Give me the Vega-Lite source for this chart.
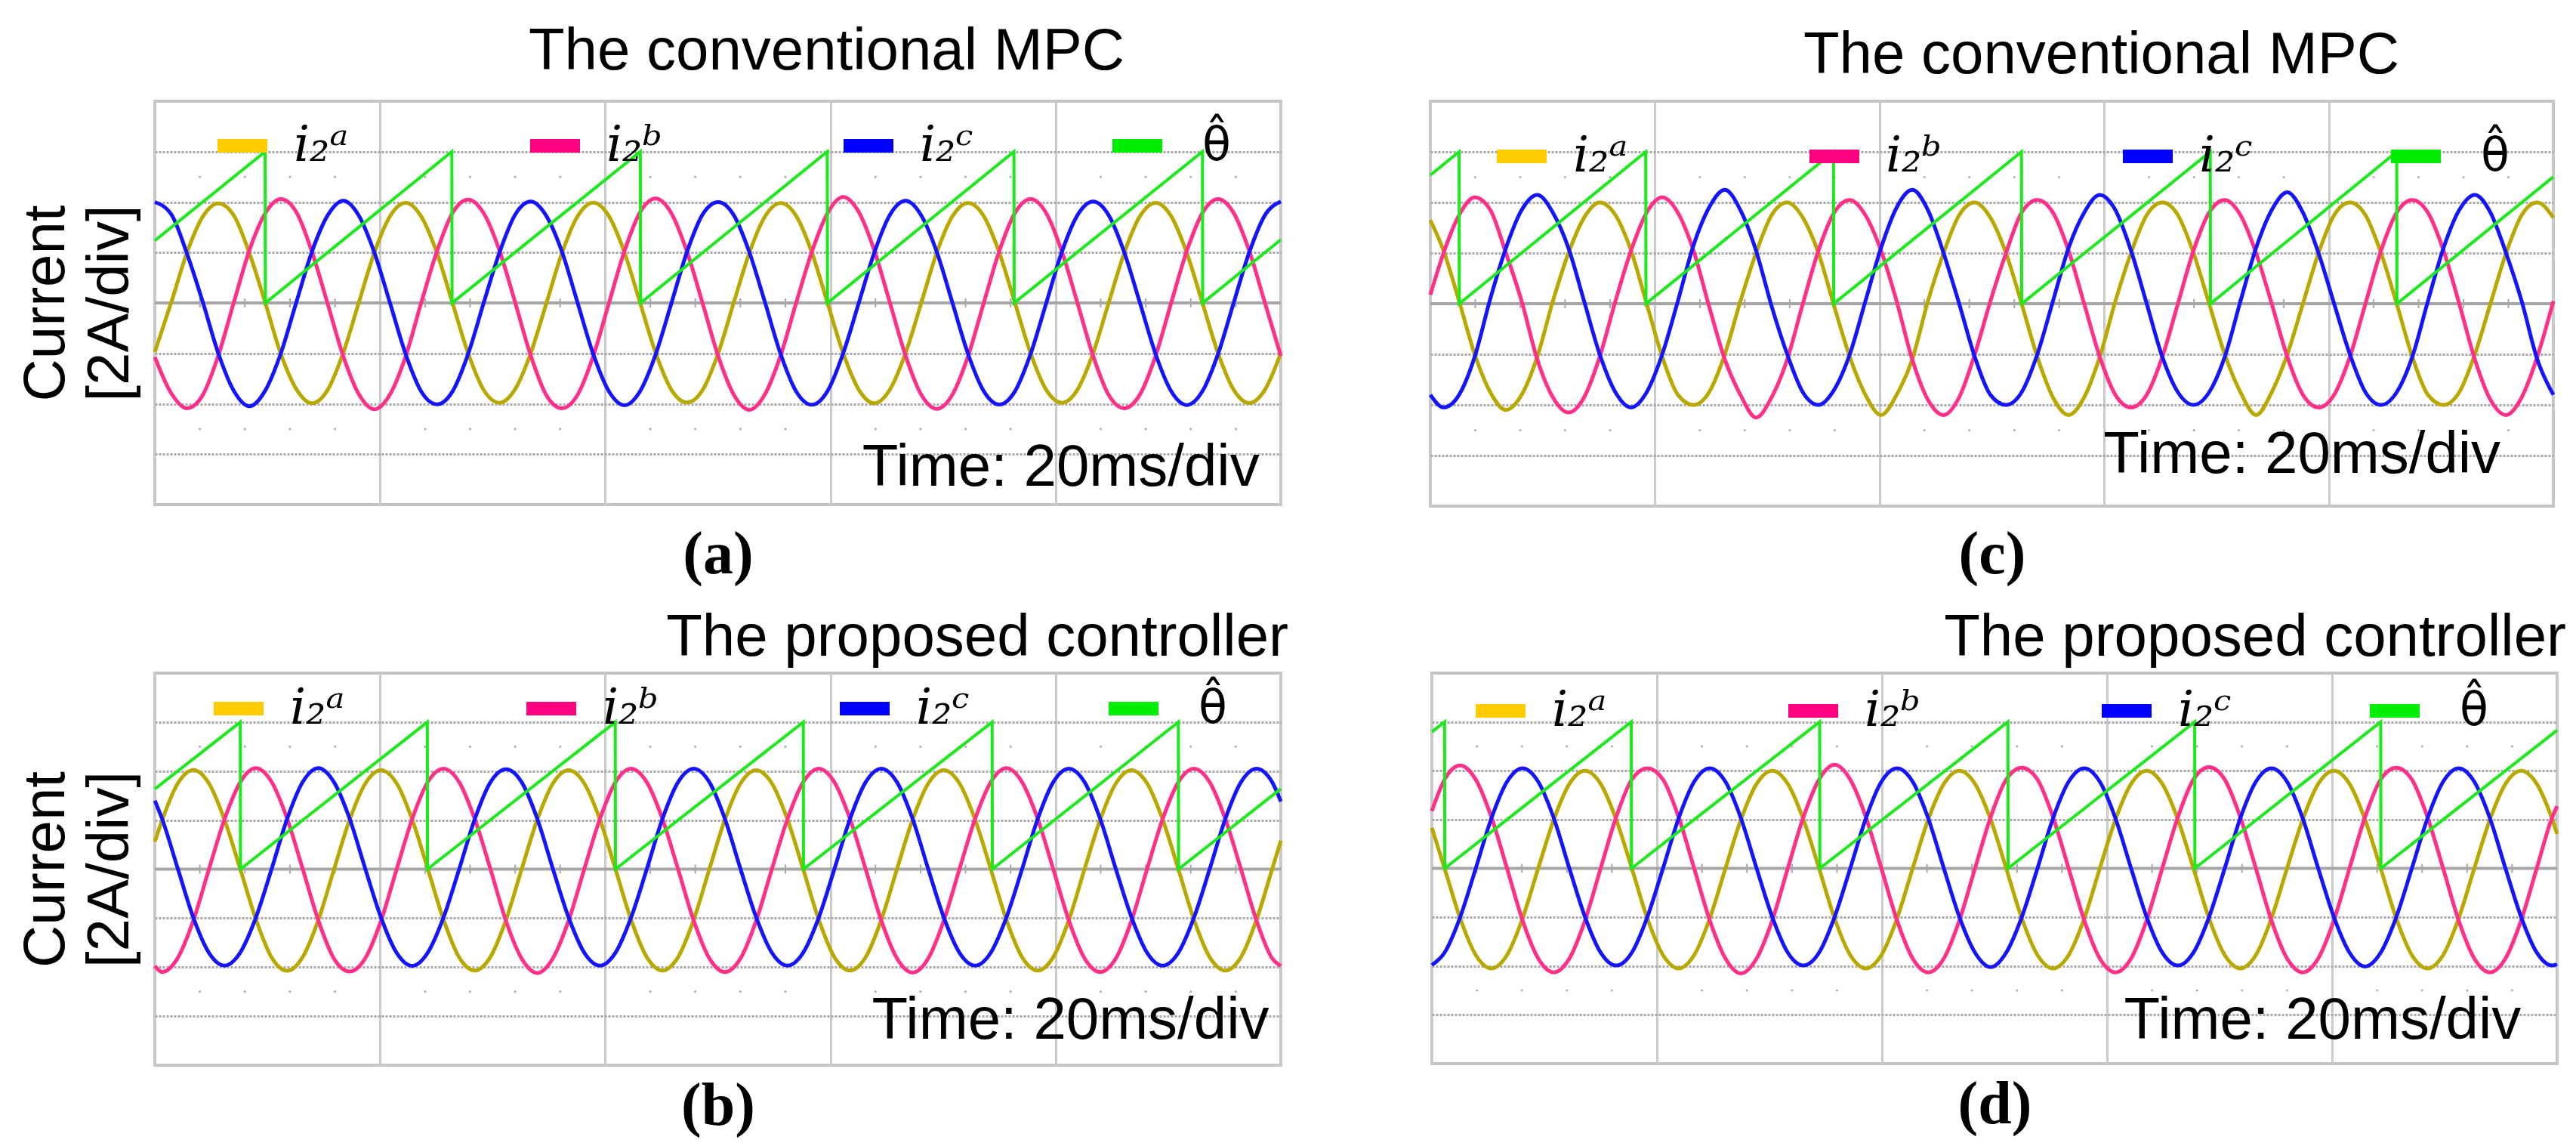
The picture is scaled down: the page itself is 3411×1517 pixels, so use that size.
{
"$schema":"https://vega.github.io/schema/vega-lite/v6.json",
"background":"white",
"padding":{"left":20,"top":28,"right":0,"bottom":0},
"config":{"view":{"stroke":"#c4c4c4","strokeWidth":4},"font":"Liberation Sans"},
"datasets":{
"nothing":[],
"minor":[{"t":4},{"t":8},{"t":12},{"t":16},{"t":24},{"t":28},{"t":32},{"t":36},{"t":44},{"t":48},{"t":52},{"t":56},{"t":64},{"t":68},{"t":72},{"t":76},{"t":84},{"t":88},{"t":92},{"t":96}],
"sa":[{"t":0,"v":2.47},{"t":9.8,"v":6},{"t":9.82,"v":0},{"t":26.38,"v":6},{"t":26.4,"v":0},{"t":43.12,"v":6},{"t":43.14,"v":0},{"t":59.72,"v":6},{"t":59.74,"v":0},{"t":76.3,"v":6},{"t":76.32,"v":0},{"t":93.04,"v":6},{"t":93.06,"v":0},{"t":100,"v":2.51}],
"sc":[{"t":0,"v":5.08},{"t":2.56,"v":6},{"t":2.58,"v":0},{"t":19.18,"v":6},{"t":19.2,"v":0},{"t":35.9,"v":6},{"t":35.92,"v":0},{"t":52.64,"v":6},{"t":52.66,"v":0},{"t":69.45,"v":6},{"t":69.47,"v":0},{"t":86.05,"v":6},{"t":86.07,"v":0},{"t":100,"v":5.01}],
"sb":[{"t":0,"v":3.27},{"t":7.59,"v":6},{"t":7.61,"v":0},{"t":24.2,"v":6},{"t":24.22,"v":0},{"t":40.89,"v":6},{"t":40.91,"v":0},{"t":57.59,"v":6},{"t":57.61,"v":0},{"t":74.36,"v":6},{"t":74.38,"v":0},{"t":90.9,"v":6},{"t":90.92,"v":0},{"t":100,"v":3.28}],
"sd":[{"t":0,"v":5.59},{"t":1.13,"v":6},{"t":1.15,"v":0},{"t":17.72,"v":6},{"t":17.74,"v":0},{"t":34.46,"v":6},{"t":34.48,"v":0},{"t":51.19,"v":6},{"t":51.21,"v":0},{"t":67.79,"v":6},{"t":67.81,"v":0},{"t":84.32,"v":6},{"t":84.34,"v":0},{"t":100,"v":5.66}],
"wa":[{"t":0,"a":-1.95,"b":-2.15,"c":4.0},{"t":1.48,"a":0.05,"b":-3.6,"c":3.5},{"t":2.86,"a":2.0,"b":-4.18,"c":1.95},{"t":4.25,"a":3.42,"b":-3.66,"c":0.05},{"t":5.64,"a":3.95,"b":-2.08,"c":-2.0},{"t":7.03,"a":3.46,"b":0.04,"c":-3.5},{"t":8.41,"a":1.96,"b":2.1,"c":-4.1},{"t":9.8,"a":0.02,"b":3.55,"c":-3.48},{"t":11.19,"a":-2.02,"b":4.12,"c":-2.0},{"t":12.57,"a":-3.42,"b":3.6,"c":0.03},{"t":13.96,"a":-3.98,"b":2.02,"c":2.04},{"t":15.35,"a":-3.45,"b":-0.03,"c":3.47},{"t":16.74,"a":-1.97,"b":-2.12,"c":4.05},{"t":18.12,"a":0.02,"b":-3.62,"c":3.46},{"t":19.51,"a":2.01,"b":-4.22,"c":1.98},{"t":20.9,"a":3.45,"b":-3.62,"c":-0.02},{"t":22.29,"a":3.97,"b":-2.1,"c":-2.05},{"t":23.67,"a":3.42,"b":0.02,"c":-3.52},{"t":25.06,"a":1.98,"b":2.05,"c":-4.02},{"t":26.45,"a":-0.02,"b":3.58,"c":-3.5},{"t":27.83,"a":-2.0,"b":4.1,"c":-2.02},{"t":29.22,"a":-3.46,"b":3.55,"c":0.02},{"t":30.61,"a":-3.96,"b":2.08,"c":2.0},{"t":32.0,"a":-3.42,"b":0.02,"c":3.5},{"t":33.38,"a":-2.0,"b":-2.08,"c":4.02},{"t":34.77,"a":-0.02,"b":-3.66,"c":3.45},{"t":36.16,"a":1.98,"b":-4.18,"c":2.03},{"t":37.55,"a":3.44,"b":-3.64,"c":0.0},{"t":38.93,"a":3.98,"b":-2.12,"c":-2.02},{"t":40.32,"a":3.45,"b":-0.02,"c":-3.5},{"t":41.71,"a":2.0,"b":2.06,"c":-4.06},{"t":43.1,"a":0.0,"b":3.6,"c":-3.5},{"t":44.48,"a":-1.98,"b":4.14,"c":-2.04},{"t":45.87,"a":-3.44,"b":3.56,"c":-0.02},{"t":47.26,"a":-3.95,"b":2.04,"c":2.02},{"t":48.64,"a":-3.46,"b":0.0,"c":3.5},{"t":50.03,"a":-2.0,"b":-2.1,"c":4.0},{"t":51.42,"a":0.02,"b":-3.64,"c":3.48},{"t":52.81,"a":2.0,"b":-4.24,"c":2.0},{"t":54.19,"a":3.43,"b":-3.62,"c":0.02},{"t":55.58,"a":3.96,"b":-2.08,"c":-2.03},{"t":56.97,"a":3.44,"b":0.02,"c":-3.52},{"t":58.36,"a":1.99,"b":2.04,"c":-4.04},{"t":59.74,"a":0.0,"b":3.56,"c":-3.5},{"t":61.13,"a":-1.99,"b":4.2,"c":-2.0},{"t":62.52,"a":-3.44,"b":3.6,"c":0.0},{"t":63.9,"a":-3.98,"b":2.08,"c":2.0},{"t":65.29,"a":-3.43,"b":0.0,"c":3.5},{"t":66.68,"a":-1.98,"b":-2.1,"c":4.05},{"t":68.07,"a":0.0,"b":-3.64,"c":3.47},{"t":69.45,"a":2.0,"b":-4.2,"c":2.02},{"t":70.84,"a":3.44,"b":-3.63,"c":0.0},{"t":72.23,"a":3.96,"b":-2.1,"c":-2.03},{"t":73.62,"a":3.44,"b":0.0,"c":-3.5},{"t":75.0,"a":1.99,"b":2.06,"c":-4.03},{"t":76.39,"a":0.0,"b":3.57,"c":-3.5},{"t":77.78,"a":-2.0,"b":4.12,"c":-2.02},{"t":79.17,"a":-3.45,"b":3.56,"c":0.0},{"t":80.55,"a":-3.96,"b":2.05,"c":2.02},{"t":81.94,"a":-3.44,"b":0.0,"c":3.48},{"t":83.33,"a":-1.99,"b":-2.1,"c":4.02},{"t":84.71,"a":0.0,"b":-3.65,"c":3.48},{"t":86.1,"a":1.99,"b":-4.18,"c":2.0},{"t":87.49,"a":3.44,"b":-3.63,"c":0.0},{"t":88.88,"a":3.97,"b":-2.1,"c":-2.03},{"t":90.26,"a":3.44,"b":0.0,"c":-3.5},{"t":91.65,"a":1.98,"b":2.06,"c":-4.05},{"t":93.04,"a":0.0,"b":3.57,"c":-3.5},{"t":94.43,"a":-2.0,"b":4.12,"c":-2.02},{"t":95.81,"a":-3.44,"b":3.57,"c":0.0},{"t":97.2,"a":-3.97,"b":2.06,"c":2.01},{"t":98.59,"a":-3.44,"b":0.0,"c":3.48},{"t":100,"a":-1.99,"b":-2.1,"c":4.02}],
"wc":[{"t":0,"a":3.3,"b":0.35,"c":-3.6},{"t":1.17,"a":2.1,"b":2.0,"c":-4.1},{"t":2.56,"a":0.1,"b":3.5,"c":-3.6},{"t":3.95,"a":-2.0,"b":4.2,"c":-2.1},{"t":5.34,"a":-3.5,"b":3.7,"c":0.2},{"t":6.73,"a":-4.2,"b":2.0,"c":2.2},{"t":8.13,"a":-3.6,"b":0.1,"c":3.7},{"t":9.52,"a":-2.1,"b":-2.2,"c":4.3},{"t":10.91,"a":0.1,"b":-3.7,"c":3.6},{"t":12.3,"a":2.0,"b":-4.3,"c":2.2},{"t":13.69,"a":3.4,"b":-3.7,"c":0.1},{"t":15.08,"a":4.0,"b":-2.1,"c":-2.0},{"t":16.48,"a":3.5,"b":0.1,"c":-3.5},{"t":17.87,"a":2.1,"b":2.1,"c":-4.1},{"t":19.26,"a":0.0,"b":3.6,"c":-3.5},{"t":20.65,"a":-2.1,"b":4.2,"c":-2.0},{"t":22.04,"a":-3.6,"b":3.6,"c":0.1},{"t":23.43,"a":-4.0,"b":2.1,"c":2.3},{"t":24.82,"a":-3.5,"b":-0.1,"c":3.8},{"t":26.22,"a":-2.0,"b":-2.2,"c":4.5},{"t":27.61,"a":0.1,"b":-3.6,"c":3.7},{"t":29.0,"a":2.0,"b":-4.5,"c":2.1},{"t":30.39,"a":3.5,"b":-3.7,"c":-0.1},{"t":31.78,"a":4.0,"b":-2.2,"c":-2.0},{"t":33.17,"a":3.4,"b":0.0,"c":-3.5},{"t":34.56,"a":2.0,"b":2.1,"c":-4.0},{"t":35.96,"a":-0.1,"b":3.6,"c":-3.4},{"t":37.35,"a":-2.1,"b":4.1,"c":-2.0},{"t":38.74,"a":-3.6,"b":3.5,"c":0.1},{"t":40.13,"a":-4.4,"b":2.1,"c":2.2},{"t":41.52,"a":-3.6,"b":0.1,"c":3.8},{"t":42.91,"a":-2.2,"b":-2.2,"c":4.5},{"t":44.31,"a":0.1,"b":-3.8,"c":3.7},{"t":45.7,"a":2.0,"b":-4.4,"c":2.0},{"t":47.09,"a":3.5,"b":-3.7,"c":0.0},{"t":48.48,"a":4.0,"b":-2.0,"c":-2.1},{"t":49.87,"a":3.4,"b":0.1,"c":-3.6},{"t":51.26,"a":2.0,"b":2.0,"c":-4.0},{"t":52.65,"a":0.0,"b":3.6,"c":-3.5},{"t":54.05,"a":-2.1,"b":4.1,"c":-2.0},{"t":55.44,"a":-3.7,"b":3.6,"c":0.1},{"t":56.83,"a":-4.4,"b":2.1,"c":2.2},{"t":58.22,"a":-3.7,"b":0.0,"c":3.6},{"t":59.61,"a":-2.1,"b":-2.1,"c":4.3},{"t":61.0,"a":0.1,"b":-3.6,"c":3.7},{"t":62.39,"a":2.0,"b":-4.1,"c":2.1},{"t":63.79,"a":3.5,"b":-3.6,"c":0.0},{"t":65.18,"a":4.0,"b":-2.1,"c":-2.1},{"t":66.57,"a":3.5,"b":0.0,"c":-3.5},{"t":67.96,"a":2.0,"b":2.1,"c":-4.0},{"t":69.35,"a":0.0,"b":3.6,"c":-3.5},{"t":70.74,"a":-2.0,"b":4.1,"c":-2.1},{"t":72.14,"a":-3.5,"b":3.5,"c":0.1},{"t":73.53,"a":-4.4,"b":2.0,"c":2.2},{"t":74.92,"a":-3.5,"b":0.0,"c":3.7},{"t":76.31,"a":-2.0,"b":-2.1,"c":4.4},{"t":77.7,"a":0.0,"b":-3.6,"c":3.6},{"t":79.09,"a":2.0,"b":-4.1,"c":2.0},{"t":80.48,"a":3.5,"b":-3.6,"c":0.0},{"t":81.88,"a":4.0,"b":-2.1,"c":-2.0},{"t":83.27,"a":3.5,"b":0.0,"c":-3.5},{"t":84.66,"a":2.0,"b":2.1,"c":-4.0},{"t":86.05,"a":0.0,"b":3.6,"c":-3.5},{"t":87.44,"a":-2.1,"b":4.1,"c":-2.1},{"t":88.83,"a":-3.6,"b":3.6,"c":0.1},{"t":90.22,"a":-4.0,"b":2.1,"c":2.2},{"t":91.62,"a":-3.5,"b":0.0,"c":3.7},{"t":93.01,"a":-2.0,"b":-2.2,"c":4.3},{"t":94.4,"a":0.0,"b":-3.8,"c":3.6},{"t":95.79,"a":2.0,"b":-4.4,"c":2.0},{"t":97.18,"a":3.5,"b":-3.7,"c":0.1},{"t":98.57,"a":4.0,"b":-2.1,"c":-2.2},{"t":100,"a":3.4,"b":0.1,"c":-3.6}],
"wb":[{"t":0,"a":1.12,"b":-3.95,"c":2.8},{"t":0.65,"a":2.0,"b":-4.2,"c":2.05},{"t":2.04,"a":3.5,"b":-3.62,"c":0.02},{"t":3.42,"a":4.05,"b":-2.1,"c":-1.98},{"t":4.81,"a":3.5,"b":0.0,"c":-3.42},{"t":6.2,"a":2.0,"b":2.05,"c":-3.94},{"t":7.59,"a":0.0,"b":3.55,"c":-3.4},{"t":8.98,"a":-2.05,"b":4.12,"c":-1.97},{"t":10.37,"a":-3.6,"b":3.56,"c":0.0},{"t":11.76,"a":-4.15,"b":2.05,"c":2.06},{"t":13.14,"a":-3.58,"b":0.0,"c":3.56},{"t":14.53,"a":-2.07,"b":-2.1,"c":4.12},{"t":15.92,"a":0.0,"b":-3.66,"c":3.54},{"t":17.31,"a":2.02,"b":-4.18,"c":2.05},{"t":18.7,"a":3.5,"b":-3.63,"c":0.0},{"t":20.09,"a":4.04,"b":-2.1,"c":-1.98},{"t":21.48,"a":3.5,"b":0.0,"c":-3.42},{"t":22.86,"a":2.02,"b":2.05,"c":-3.95},{"t":24.25,"a":0.0,"b":3.56,"c":-3.4},{"t":25.64,"a":-2.06,"b":4.1,"c":-1.97},{"t":27.03,"a":-3.6,"b":3.55,"c":0.0},{"t":28.42,"a":-4.14,"b":2.04,"c":2.05},{"t":29.81,"a":-3.58,"b":0.0,"c":3.55},{"t":31.19,"a":-2.07,"b":-2.12,"c":4.08},{"t":32.58,"a":0.0,"b":-3.65,"c":3.55},{"t":33.97,"a":2.02,"b":-4.24,"c":2.05},{"t":35.36,"a":3.5,"b":-3.63,"c":0.0},{"t":36.75,"a":4.04,"b":-2.1,"c":-1.97},{"t":38.14,"a":3.5,"b":0.0,"c":-3.41},{"t":39.53,"a":2.02,"b":2.05,"c":-3.94},{"t":40.91,"a":0.0,"b":3.55,"c":-3.41},{"t":42.3,"a":-2.07,"b":4.1,"c":-1.97},{"t":43.69,"a":-3.59,"b":3.55,"c":0.0},{"t":45.08,"a":-4.14,"b":2.05,"c":2.05},{"t":46.47,"a":-3.59,"b":0.0,"c":3.55},{"t":47.86,"a":-2.07,"b":-2.1,"c":4.1},{"t":49.25,"a":0.0,"b":-3.64,"c":3.55},{"t":50.63,"a":2.02,"b":-4.2,"c":2.05},{"t":52.02,"a":3.5,"b":-3.64,"c":0.0},{"t":53.41,"a":4.04,"b":-2.1,"c":-1.97},{"t":54.8,"a":3.5,"b":0.0,"c":-3.41},{"t":56.19,"a":2.02,"b":2.05,"c":-3.94},{"t":57.58,"a":0.0,"b":3.55,"c":-3.41},{"t":58.97,"a":-2.07,"b":4.1,"c":-1.97},{"t":60.35,"a":-3.59,"b":3.55,"c":0.0},{"t":61.74,"a":-4.14,"b":2.05,"c":2.05},{"t":63.13,"a":-3.59,"b":0.0,"c":3.55},{"t":64.52,"a":-2.07,"b":-2.1,"c":4.1},{"t":65.91,"a":0.0,"b":-3.64,"c":3.55},{"t":67.3,"a":2.02,"b":-4.22,"c":2.05},{"t":68.69,"a":3.5,"b":-3.64,"c":0.0},{"t":70.07,"a":4.04,"b":-2.1,"c":-1.97},{"t":71.46,"a":3.5,"b":0.0,"c":-3.41},{"t":72.85,"a":2.02,"b":2.05,"c":-3.94},{"t":74.24,"a":0.0,"b":3.55,"c":-3.41},{"t":75.63,"a":-2.07,"b":4.12,"c":-1.97},{"t":77.02,"a":-3.59,"b":3.55,"c":0.0},{"t":78.41,"a":-4.14,"b":2.05,"c":2.05},{"t":79.79,"a":-3.59,"b":0.0,"c":3.55},{"t":81.18,"a":-2.07,"b":-2.1,"c":4.1},{"t":82.57,"a":0.0,"b":-3.64,"c":3.55},{"t":83.96,"a":2.02,"b":-4.2,"c":2.05},{"t":85.35,"a":3.5,"b":-3.64,"c":0.0},{"t":86.74,"a":4.04,"b":-2.1,"c":-1.97},{"t":88.12,"a":3.5,"b":0.0,"c":-3.41},{"t":89.51,"a":2.02,"b":2.05,"c":-3.94},{"t":90.9,"a":0.0,"b":3.55,"c":-3.41},{"t":92.29,"a":-2.07,"b":4.1,"c":-1.97},{"t":93.68,"a":-3.59,"b":3.55,"c":0.0},{"t":95.07,"a":-4.14,"b":2.05,"c":2.05},{"t":96.46,"a":-3.59,"b":0.0,"c":3.55},{"t":97.84,"a":-2.07,"b":-2.1,"c":4.1},{"t":99.23,"a":0.0,"b":-3.64,"c":3.55},{"t":100,"a":1.16,"b":-3.95,"c":2.76}],
"wd":[{"t":0,"a":1.66,"b":2.35,"c":-3.96},{"t":1.13,"a":0.0,"b":3.64,"c":-3.45},{"t":2.52,"a":-2.05,"b":4.22,"c":-1.99},{"t":3.9,"a":-3.55,"b":3.64,"c":0.0},{"t":5.29,"a":-4.1,"b":2.1,"c":2.05},{"t":6.68,"a":-3.55,"b":0.0,"c":3.55},{"t":8.06,"a":-2.05,"b":-2.13,"c":4.1},{"t":9.45,"a":0.0,"b":-3.69,"c":3.55},{"t":10.84,"a":2.0,"b":-4.26,"c":2.05},{"t":12.22,"a":3.46,"b":-3.69,"c":0.0},{"t":13.61,"a":4.0,"b":-2.13,"c":-1.99},{"t":15.0,"a":3.46,"b":0.0,"c":-3.45},{"t":16.38,"a":2.0,"b":2.1,"c":-3.98},{"t":17.77,"a":0.0,"b":3.64,"c":-3.45},{"t":19.15,"a":-2.05,"b":4.1,"c":-1.99},{"t":20.54,"a":-3.55,"b":3.64,"c":0.0},{"t":21.93,"a":-4.1,"b":2.1,"c":2.05},{"t":23.31,"a":-3.55,"b":0.0,"c":3.55},{"t":24.7,"a":-2.05,"b":-2.13,"c":4.1},{"t":26.09,"a":0.0,"b":-3.69,"c":3.55},{"t":27.47,"a":2.0,"b":-4.3,"c":2.05},{"t":28.86,"a":3.46,"b":-3.69,"c":0.0},{"t":30.25,"a":4.0,"b":-2.13,"c":-1.99},{"t":31.63,"a":3.46,"b":0.0,"c":-3.45},{"t":33.02,"a":2.0,"b":2.1,"c":-3.98},{"t":34.41,"a":0.0,"b":3.64,"c":-3.45},{"t":35.79,"a":-2.05,"b":4.25,"c":-1.99},{"t":37.18,"a":-3.55,"b":3.64,"c":0.0},{"t":38.57,"a":-4.1,"b":2.1,"c":2.05},{"t":39.95,"a":-3.55,"b":0.0,"c":3.55},{"t":41.34,"a":-2.05,"b":-2.13,"c":4.1},{"t":42.73,"a":0.0,"b":-3.69,"c":3.55},{"t":44.11,"a":2.0,"b":-4.26,"c":2.05},{"t":45.5,"a":3.46,"b":-3.69,"c":0.0},{"t":46.88,"a":4.0,"b":-2.13,"c":-1.99},{"t":48.27,"a":3.46,"b":0.0,"c":-3.45},{"t":49.66,"a":2.0,"b":2.1,"c":-4.05},{"t":51.04,"a":0.0,"b":3.64,"c":-3.45},{"t":52.43,"a":-2.05,"b":4.12,"c":-1.99},{"t":53.82,"a":-3.55,"b":3.64,"c":0.0},{"t":55.2,"a":-4.1,"b":2.1,"c":2.05},{"t":56.59,"a":-3.55,"b":0.0,"c":3.55},{"t":57.98,"a":-2.05,"b":-2.13,"c":4.1},{"t":59.36,"a":0.0,"b":-3.69,"c":3.55},{"t":60.75,"a":2.0,"b":-4.26,"c":2.05},{"t":62.14,"a":3.46,"b":-3.69,"c":0.0},{"t":63.52,"a":4.0,"b":-2.13,"c":-1.99},{"t":64.91,"a":3.46,"b":0.0,"c":-3.45},{"t":66.3,"a":2.0,"b":2.1,"c":-3.98},{"t":67.68,"a":0.0,"b":3.64,"c":-3.45},{"t":69.07,"a":-2.05,"b":4.15,"c":-1.99},{"t":70.46,"a":-3.55,"b":3.64,"c":0.0},{"t":71.84,"a":-4.1,"b":2.1,"c":2.05},{"t":73.23,"a":-3.55,"b":0.0,"c":3.55},{"t":74.61,"a":-2.05,"b":-2.13,"c":4.1},{"t":76.0,"a":0.0,"b":-3.69,"c":3.55},{"t":77.39,"a":2.0,"b":-4.26,"c":2.05},{"t":78.77,"a":3.46,"b":-3.69,"c":0.0},{"t":80.16,"a":4.0,"b":-2.13,"c":-1.99},{"t":81.55,"a":3.46,"b":0.0,"c":-3.45},{"t":82.93,"a":2.0,"b":2.1,"c":-4.02},{"t":84.32,"a":0.0,"b":3.64,"c":-3.45},{"t":85.71,"a":-2.05,"b":4.12,"c":-1.99},{"t":87.09,"a":-3.55,"b":3.64,"c":0.0},{"t":88.48,"a":-4.1,"b":2.1,"c":2.05},{"t":89.87,"a":-3.55,"b":0.0,"c":3.55},{"t":91.25,"a":-2.05,"b":-2.13,"c":4.1},{"t":92.64,"a":0.0,"b":-3.69,"c":3.55},{"t":94.03,"a":2.0,"b":-4.26,"c":2.05},{"t":95.41,"a":3.46,"b":-3.69,"c":0.0},{"t":96.8,"a":4.0,"b":-2.13,"c":-1.99},{"t":98.19,"a":3.46,"b":0.0,"c":-3.45},{"t":99.57,"a":2.0,"b":2.1,"c":-3.98},{"t":100,"a":1.41,"b":2.55,"c":-3.93}]
},
"spacing":28,
"resolve":{"scale":{"color":"independent"}},
"vconcat":[
{"hconcat":[
{"width":1491,"height":534,
"title":{"text":"The conventional MPC","anchor":"middle","dx":144,"offset":26,"fontSize":78,"font":"Liberation Sans","fontWeight":"normal","color":"black"},
"resolve":{"scale":{"color":"independent"}},
"layer":[
{"data":{"name":"minor"},"mark":{"type":"point","filled":true,"size":10,"color":"#b0b0b0","opacity":1},"encoding":{"x":{"field":"t","type":"quantitative","scale":{"domain":[0,100],"nice":false}},"y":{"datum":5,"type":"quantitative","scale":{"domain":[-8,8],"nice":false}}}},
{"data":{"name":"minor"},"mark":{"type":"point","filled":true,"size":10,"color":"#b0b0b0","opacity":1},"encoding":{"x":{"field":"t","type":"quantitative","scale":{"domain":[0,100],"nice":false}},"y":{"datum":-5,"type":"quantitative","scale":{"domain":[-8,8],"nice":false}}}},
{"data":{"values":[{}]},"mark":{"type":"rule","color":"#a6a6a6","strokeWidth":4},"encoding":{"y":{"datum":0,"type":"quantitative","scale":{"domain":[-8,8],"nice":false}}}},
{"data":{"name":"minor"},"mark":{"type":"tick","orient":"vertical","size":12,"thickness":2,"color":"#a8a8a8","opacity":1},"encoding":{"x":{"field":"t","type":"quantitative","scale":{"domain":[0,100],"nice":false}},"y":{"datum":0,"type":"quantitative","scale":{"domain":[-8,8],"nice":false}}}},
{"data":{"name":"wa"},"transform":[{"fold":["a","b","c"],"as":["s","v"]}],"mark":{"type":"line","interpolate":"monotone","strokeWidth":5},
"encoding":{
"x":{"field":"t","type":"quantitative","scale":{"domain":[0,100],"nice":false},"axis":{"values":[0,20,40,60,80,100],"labels":false,"ticks":false,"domain":false,"grid":true,"gridColor":"#cacaca","gridWidth":3,"title":"(a)","titleFont":"Liberation Serif","titleFontSize":80,"titleFontWeight":"bold","titleColor":"black","titlePadding":27}},
"y":{"field":"v","type":"quantitative","scale":{"domain":[-8,8],"nice":false},"axis":{"values":[-6,-4,-2,2,4,6],"labels":false,"ticks":false,"domain":false,"grid":true,"gridColor":"#a8a8a8","gridDash":[3,2],"gridWidth":3,"title":["Current","[2A/div]"],"titleFont":"Liberation Sans","titleFontSize":78,"titleFontWeight":"normal","titleColor":"black","titleLineHeight":85,"titlePadding":20,"minExtent":0}},
"color":{"field":"s","type":"nominal","scale":{"domain":["a","b","c"],"range":["#b8a800","#ff2f8a","#1414ff"]},"legend":null}}},
{"data":{"name":"nothing"},"mark":{"type":"line","strokeWidth":18},"encoding":{"x":{"field":"t","type":"quantitative","scale":{"domain":[0,100],"nice":false}},"y":{"field":"v","type":"quantitative","scale":{"domain":[-8,8],"nice":false}},
"color":{"field":"s","type":"nominal","scale":{"domain":["a","b","c"],"range":["#ffcc00","#ff0080","#0000ff"]},
"legend":{"orient":"none","legendX":74,"legendY":17,"direction":"horizontal","columns":3,"title":null,"symbolType":"stroke","symbolSize":4356,"symbolStrokeWidth":18,"symbolOpacity":1,"labelFont":"DejaVu Serif","labelFontStyle":"italic","labelFontSize":66,"labelColor":"black","labelOffset":26,"columnPadding":204,"padding":0,"labelExpr":"datum.value === 'a' ? 'i₂ᵃ' : datum.value === 'b' ? 'i₂ᵇ' : 'i₂ᶜ'"}}}},
{"data":{"name":"sa"},"mark":{"type":"line","strokeWidth":4},"encoding":{"x":{"field":"t","type":"quantitative","scale":{"domain":[0,100],"nice":false}},"y":{"field":"v","type":"quantitative","scale":{"domain":[-8,8],"nice":false}},
"color":{"datum":"θ̂","type":"nominal","scale":{"range":["#1aea1a"]},"legend":null}}},
{"data":{"name":"nothing"},"mark":{"type":"line","strokeWidth":18},"encoding":{"x":{"field":"t","type":"quantitative","scale":{"domain":[0,100],"nice":false}},"y":{"field":"v","type":"quantitative","scale":{"domain":[-8,8],"nice":false}},
"color":{"datum":"θ̂","type":"nominal","scale":{"range":["#00ee00"]},"legend":{"orient":"none","legendX":1259,"legendY":17,"title":null,"symbolType":"stroke","symbolSize":4356,"symbolStrokeWidth":18,"symbolOpacity":1,"labelFont":"DejaVu Sans","labelFontSize":62,"labelColor":"black","labelOffset":44,"padding":0}}}},
{"data":{"values":[{"txt":"Time: 20ms/div"}]},"mark":{"type":"text","align":"right","baseline":"alphabetic","font":"Liberation Sans","fontSize":78,"color":"black"},"encoding":{"x":{"datum":98.1,"type":"quantitative","scale":{"domain":[0,100],"nice":false}},"y":{"datum":-7.24,"type":"quantitative","scale":{"domain":[-8,8],"nice":false}},"text":{"field":"txt"}}}
]},
{"width":1487,"height":536,
"title":{"text":"The conventional MPC","anchor":"middle","dx":145,"offset":21,"fontSize":78,"font":"Liberation Sans","fontWeight":"normal","color":"black"},
"resolve":{"scale":{"color":"independent"}},
"layer":[
{"data":{"name":"minor"},"mark":{"type":"point","filled":true,"size":10,"color":"#b0b0b0","opacity":1},"encoding":{"x":{"field":"t","type":"quantitative","scale":{"domain":[0,100],"nice":false}},"y":{"datum":5,"type":"quantitative","scale":{"domain":[-8,8],"nice":false}}}},
{"data":{"name":"minor"},"mark":{"type":"point","filled":true,"size":10,"color":"#b0b0b0","opacity":1},"encoding":{"x":{"field":"t","type":"quantitative","scale":{"domain":[0,100],"nice":false}},"y":{"datum":-5,"type":"quantitative","scale":{"domain":[-8,8],"nice":false}}}},
{"data":{"values":[{}]},"mark":{"type":"rule","color":"#a6a6a6","strokeWidth":4},"encoding":{"y":{"datum":0,"type":"quantitative","scale":{"domain":[-8,8],"nice":false}}}},
{"data":{"name":"minor"},"mark":{"type":"tick","orient":"vertical","size":12,"thickness":2,"color":"#a8a8a8","opacity":1},"encoding":{"x":{"field":"t","type":"quantitative","scale":{"domain":[0,100],"nice":false}},"y":{"datum":0,"type":"quantitative","scale":{"domain":[-8,8],"nice":false}}}},
{"data":{"name":"wc"},"transform":[{"fold":["a","b","c"],"as":["s","v"]}],"mark":{"type":"line","interpolate":"monotone","strokeWidth":5},
"encoding":{
"x":{"field":"t","type":"quantitative","scale":{"domain":[0,100],"nice":false},"axis":{"values":[0,20,40,60,80,100],"labels":false,"ticks":false,"domain":false,"grid":true,"gridColor":"#cacaca","gridWidth":3,"title":"(c)","titleFont":"Liberation Serif","titleFontSize":80,"titleFontWeight":"bold","titleColor":"black","titlePadding":25}},
"y":{"field":"v","type":"quantitative","scale":{"domain":[-8,8],"nice":false},"axis":{"values":[-6,-4,-2,2,4,6],"labels":false,"ticks":false,"domain":false,"grid":true,"gridColor":"#a8a8a8","gridDash":[3,2],"gridWidth":3,"title":null,"minExtent":0}},
"color":{"field":"s","type":"nominal","scale":{"domain":["a","b","c"],"range":["#b8a800","#ff2f8a","#1414ff"]},"legend":null}}},
{"data":{"name":"nothing"},"mark":{"type":"line","strokeWidth":18},"encoding":{"x":{"field":"t","type":"quantitative","scale":{"domain":[0,100],"nice":false}},"y":{"field":"v","type":"quantitative","scale":{"domain":[-8,8],"nice":false}},
"color":{"field":"s","type":"nominal","scale":{"domain":["a","b","c"],"range":["#ffcc00","#ff0080","#0000ff"]},
"legend":{"orient":"none","legendX":79,"legendY":31,"direction":"horizontal","columns":3,"title":null,"symbolType":"stroke","symbolSize":4356,"symbolStrokeWidth":18,"symbolOpacity":1,"labelFont":"DejaVu Serif","labelFontStyle":"italic","labelFontSize":66,"labelColor":"black","labelOffset":26,"columnPadding":204,"padding":0,"labelExpr":"datum.value === 'a' ? 'i₂ᵃ' : datum.value === 'b' ? 'i₂ᵇ' : 'i₂ᶜ'"}}}},
{"data":{"name":"sc"},"mark":{"type":"line","strokeWidth":4},"encoding":{"x":{"field":"t","type":"quantitative","scale":{"domain":[0,100],"nice":false}},"y":{"field":"v","type":"quantitative","scale":{"domain":[-8,8],"nice":false}},
"color":{"datum":"θ̂","type":"nominal","scale":{"range":["#1aea1a"]},"legend":null}}},
{"data":{"name":"nothing"},"mark":{"type":"line","strokeWidth":18},"encoding":{"x":{"field":"t","type":"quantitative","scale":{"domain":[0,100],"nice":false}},"y":{"field":"v","type":"quantitative","scale":{"domain":[-8,8],"nice":false}},
"color":{"datum":"θ̂","type":"nominal","scale":{"range":["#00ee00"]},"legend":{"orient":"none","legendX":1263,"legendY":31,"title":null,"symbolType":"stroke","symbolSize":4356,"symbolStrokeWidth":18,"symbolOpacity":1,"labelFont":"DejaVu Sans","labelFontSize":62,"labelColor":"black","labelOffset":44,"padding":0}}}},
{"data":{"values":[{"txt":"Time: 20ms/div"}]},"mark":{"type":"text","align":"right","baseline":"alphabetic","font":"Liberation Sans","fontSize":78,"color":"black"},"encoding":{"x":{"datum":95.3,"type":"quantitative","scale":{"domain":[0,100],"nice":false}},"y":{"datum":-6.7,"type":"quantitative","scale":{"domain":[-8,8],"nice":false}},"text":{"field":"txt"}}}
]}
],"spacing":174,"resolve":{"scale":{"color":"independent"}}},
{"hconcat":[
{"width":1491,"height":519,
"title":{"text":"The proposed controller","anchor":"end","dx":0,"offset":7,"fontSize":78,"font":"Liberation Sans","fontWeight":"normal","color":"black"},
"resolve":{"scale":{"color":"independent"}},
"layer":[
{"data":{"name":"minor"},"mark":{"type":"point","filled":true,"size":10,"color":"#b0b0b0","opacity":1},"encoding":{"x":{"field":"t","type":"quantitative","scale":{"domain":[0,100],"nice":false}},"y":{"datum":5,"type":"quantitative","scale":{"domain":[-8,8],"nice":false}}}},
{"data":{"name":"minor"},"mark":{"type":"point","filled":true,"size":10,"color":"#b0b0b0","opacity":1},"encoding":{"x":{"field":"t","type":"quantitative","scale":{"domain":[0,100],"nice":false}},"y":{"datum":-5,"type":"quantitative","scale":{"domain":[-8,8],"nice":false}}}},
{"data":{"values":[{}]},"mark":{"type":"rule","color":"#a6a6a6","strokeWidth":4},"encoding":{"y":{"datum":0,"type":"quantitative","scale":{"domain":[-8,8],"nice":false}}}},
{"data":{"name":"minor"},"mark":{"type":"tick","orient":"vertical","size":12,"thickness":2,"color":"#a8a8a8","opacity":1},"encoding":{"x":{"field":"t","type":"quantitative","scale":{"domain":[0,100],"nice":false}},"y":{"datum":0,"type":"quantitative","scale":{"domain":[-8,8],"nice":false}}}},
{"data":{"name":"wb"},"transform":[{"fold":["a","b","c"],"as":["s","v"]}],"mark":{"type":"line","interpolate":"monotone","strokeWidth":5},
"encoding":{
"x":{"field":"t","type":"quantitative","scale":{"domain":[0,100],"nice":false},"axis":{"values":[0,20,40,60,80,100],"labels":false,"ticks":false,"domain":false,"grid":true,"gridColor":"#cacaca","gridWidth":3,"title":"(b)","titleFont":"Liberation Serif","titleFontSize":80,"titleFontWeight":"bold","titleColor":"black","titlePadding":15}},
"y":{"field":"v","type":"quantitative","scale":{"domain":[-8,8],"nice":false},"axis":{"values":[-6,-4,-2,2,4,6],"labels":false,"ticks":false,"domain":false,"grid":true,"gridColor":"#a8a8a8","gridDash":[3,2],"gridWidth":3,"title":["Current","[2A/div]"],"titleFont":"Liberation Sans","titleFontSize":78,"titleFontWeight":"normal","titleColor":"black","titleLineHeight":85,"titlePadding":20,"minExtent":0}},
"color":{"field":"s","type":"nominal","scale":{"domain":["a","b","c"],"range":["#b8a800","#ff2f8a","#1414ff"]},"legend":null}}},
{"data":{"name":"nothing"},"mark":{"type":"line","strokeWidth":18},"encoding":{"x":{"field":"t","type":"quantitative","scale":{"domain":[0,100],"nice":false}},"y":{"field":"v","type":"quantitative","scale":{"domain":[-8,8],"nice":false}},
"color":{"field":"s","type":"nominal","scale":{"domain":["a","b","c"],"range":["#ffcc00","#ff0080","#0000ff"]},
"legend":{"orient":"none","legendX":69,"legendY":5,"direction":"horizontal","columns":3,"title":null,"symbolType":"stroke","symbolSize":4356,"symbolStrokeWidth":18,"symbolOpacity":1,"labelFont":"DejaVu Serif","labelFontStyle":"italic","labelFontSize":66,"labelColor":"black","labelOffset":26,"columnPadding":204,"padding":0,"labelExpr":"datum.value === 'a' ? 'i₂ᵃ' : datum.value === 'b' ? 'i₂ᵇ' : 'i₂ᶜ'"}}}},
{"data":{"name":"sb"},"mark":{"type":"line","strokeWidth":4},"encoding":{"x":{"field":"t","type":"quantitative","scale":{"domain":[0,100],"nice":false}},"y":{"field":"v","type":"quantitative","scale":{"domain":[-8,8],"nice":false}},
"color":{"datum":"θ̂","type":"nominal","scale":{"range":["#1aea1a"]},"legend":null}}},
{"data":{"name":"nothing"},"mark":{"type":"line","strokeWidth":18},"encoding":{"x":{"field":"t","type":"quantitative","scale":{"domain":[0,100],"nice":false}},"y":{"field":"v","type":"quantitative","scale":{"domain":[-8,8],"nice":false}},
"color":{"datum":"θ̂","type":"nominal","scale":{"range":["#00ee00"]},"legend":{"orient":"none","legendX":1254,"legendY":5,"title":null,"symbolType":"stroke","symbolSize":4356,"symbolStrokeWidth":18,"symbolOpacity":1,"labelFont":"DejaVu Sans","labelFontSize":62,"labelColor":"black","labelOffset":44,"padding":0}}}},
{"data":{"values":[{"txt":"Time: 20ms/div"}]},"mark":{"type":"text","align":"right","baseline":"alphabetic","font":"Liberation Sans","fontSize":78,"color":"black"},"encoding":{"x":{"datum":98.96,"type":"quantitative","scale":{"domain":[0,100],"nice":false}},"y":{"datum":-6.92,"type":"quantitative","scale":{"domain":[-8,8],"nice":false}},"text":{"field":"txt"}}}
]},
{"width":1490,"height":517,
"title":{"text":"The proposed controller","anchor":"end","dx":2,"offset":7,"fontSize":78,"font":"Liberation Sans","fontWeight":"normal","color":"black"},
"resolve":{"scale":{"color":"independent"}},
"layer":[
{"data":{"name":"minor"},"mark":{"type":"point","filled":true,"size":10,"color":"#b0b0b0","opacity":1},"encoding":{"x":{"field":"t","type":"quantitative","scale":{"domain":[0,100],"nice":false}},"y":{"datum":5,"type":"quantitative","scale":{"domain":[-8,8],"nice":false}}}},
{"data":{"name":"minor"},"mark":{"type":"point","filled":true,"size":10,"color":"#b0b0b0","opacity":1},"encoding":{"x":{"field":"t","type":"quantitative","scale":{"domain":[0,100],"nice":false}},"y":{"datum":-5,"type":"quantitative","scale":{"domain":[-8,8],"nice":false}}}},
{"data":{"values":[{}]},"mark":{"type":"rule","color":"#a6a6a6","strokeWidth":4},"encoding":{"y":{"datum":0,"type":"quantitative","scale":{"domain":[-8,8],"nice":false}}}},
{"data":{"name":"minor"},"mark":{"type":"tick","orient":"vertical","size":12,"thickness":2,"color":"#a8a8a8","opacity":1},"encoding":{"x":{"field":"t","type":"quantitative","scale":{"domain":[0,100],"nice":false}},"y":{"datum":0,"type":"quantitative","scale":{"domain":[-8,8],"nice":false}}}},
{"data":{"name":"wd"},"transform":[{"fold":["a","b","c"],"as":["s","v"]}],"mark":{"type":"line","interpolate":"monotone","strokeWidth":5},
"encoding":{
"x":{"field":"t","type":"quantitative","scale":{"domain":[0,100],"nice":false},"axis":{"values":[0,20,40,60,80,100],"labels":false,"ticks":false,"domain":false,"grid":true,"gridColor":"#cacaca","gridWidth":3,"title":"(d)","titleFont":"Liberation Serif","titleFontSize":80,"titleFontWeight":"bold","titleColor":"black","titlePadding":15}},
"y":{"field":"v","type":"quantitative","scale":{"domain":[-8,8],"nice":false},"axis":{"values":[-6,-4,-2,2,4,6],"labels":false,"ticks":false,"domain":false,"grid":true,"gridColor":"#a8a8a8","gridDash":[3,2],"gridWidth":3,"title":null,"minExtent":0}},
"color":{"field":"s","type":"nominal","scale":{"domain":["a","b","c"],"range":["#b8a800","#ff2f8a","#1414ff"]},"legend":null}}},
{"data":{"name":"nothing"},"mark":{"type":"line","strokeWidth":18},"encoding":{"x":{"field":"t","type":"quantitative","scale":{"domain":[0,100],"nice":false}},"y":{"field":"v","type":"quantitative","scale":{"domain":[-8,8],"nice":false}},
"color":{"field":"s","type":"nominal","scale":{"domain":["a","b","c"],"range":["#ffcc00","#ff0080","#0000ff"]},
"legend":{"orient":"none","legendX":49,"legendY":8,"direction":"horizontal","columns":3,"title":null,"symbolType":"stroke","symbolSize":4356,"symbolStrokeWidth":18,"symbolOpacity":1,"labelFont":"DejaVu Serif","labelFontStyle":"italic","labelFontSize":66,"labelColor":"black","labelOffset":26,"columnPadding":204,"padding":0,"labelExpr":"datum.value === 'a' ? 'i₂ᵃ' : datum.value === 'b' ? 'i₂ᵇ' : 'i₂ᶜ'"}}}},
{"data":{"name":"sd"},"mark":{"type":"line","strokeWidth":4},"encoding":{"x":{"field":"t","type":"quantitative","scale":{"domain":[0,100],"nice":false}},"y":{"field":"v","type":"quantitative","scale":{"domain":[-8,8],"nice":false}},
"color":{"datum":"θ̂","type":"nominal","scale":{"range":["#1aea1a"]},"legend":null}}},
{"data":{"name":"nothing"},"mark":{"type":"line","strokeWidth":18},"encoding":{"x":{"field":"t","type":"quantitative","scale":{"domain":[0,100],"nice":false}},"y":{"field":"v","type":"quantitative","scale":{"domain":[-8,8],"nice":false}},
"color":{"datum":"θ̂","type":"nominal","scale":{"range":["#00ee00"]},"legend":{"orient":"none","legendX":1233,"legendY":8,"title":null,"symbolType":"stroke","symbolSize":4356,"symbolStrokeWidth":18,"symbolOpacity":1,"labelFont":"DejaVu Sans","labelFontSize":62,"labelColor":"black","labelOffset":44,"padding":0}}}},
{"data":{"values":[{"txt":"Time: 20ms/div"}]},"mark":{"type":"text","align":"right","baseline":"alphabetic","font":"Liberation Sans","fontSize":78,"color":"black"},"encoding":{"x":{"datum":96.8,"type":"quantitative","scale":{"domain":[0,100],"nice":false}},"y":{"datum":-6.97,"type":"quantitative","scale":{"domain":[-8,8],"nice":false}},"text":{"field":"txt"}}}
]}
],"spacing":176,"resolve":{"scale":{"color":"independent"}}}
]
}
